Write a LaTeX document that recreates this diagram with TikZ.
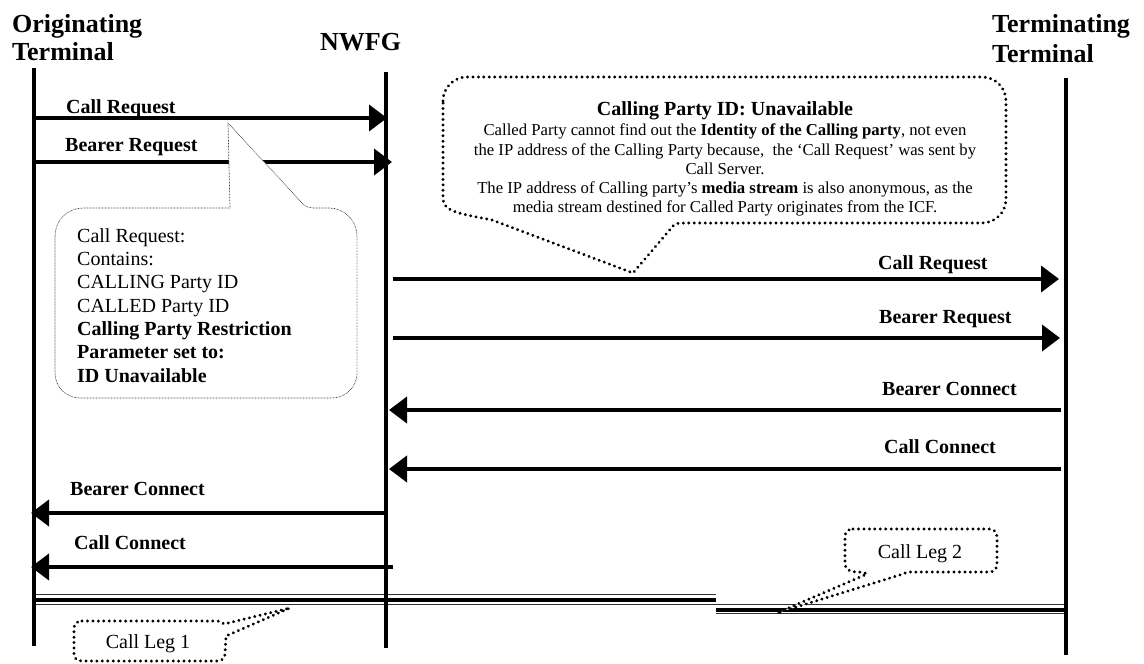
\documentclass[tikz,border=0pt]{standalone}
\usepackage{fontspec}
\setmainfont{Liberation Serif}
\usetikzlibrary{arrows.meta}
\begin{document}
\begin{tikzpicture}[x=1pt,y=-1pt,
  life/.style={line width=3.5pt},
  msg/.style={line width=4pt,-{Triangle[length=18pt,width=26pt]}},
  lbl/.style={font=\fontsize{20}{24}\selectfont\bfseries, inner sep=0pt, anchor=base west},
  ttl/.style={font=\fontsize{26}{30}\selectfont\bfseries, inner sep=0pt, anchor=base west},
  body/.style={font=\fontsize{16.7}{19}\selectfont, inner sep=0pt, anchor=base},
  note/.style={font=\fontsize{20}{23.3}\selectfont, inner sep=0pt, anchor=base west},
  legtext/.style={font=\fontsize{20}{23.3}\selectfont, inner sep=0pt, anchor=base},
  bigdots/.style={line width=3.2pt, line cap=round, dash pattern=on 0.05pt off 5.4pt},
  finedots/.style={line width=0.7pt, draw=black!75, dash pattern=on 0.7pt off 0.8pt},
  thinrule/.style={line width=1pt, draw=black!80},
  thickrule/.style={line width=4pt, draw=black},
]
\useasboundingbox (0,0) rectangle (1144,664);

% ---------- titles ----------
\node[ttl] (o1) at (12,32) {Originating};
\node[ttl] (o2) at (12,60) {Terminal};
\node[ttl] (nw) at (320,50) {NWFG};
\node[ttl] (t1) at (992,32) {Terminating};
\node[ttl] (t2) at (992,62) {Terminal};

% ---------- call leg rules ----------
\coordinate (leg1a) at (34,594.8);  \coordinate (leg1b) at (716,594.8);
\coordinate (leg1c) at (34,599.7);  \coordinate (leg1d) at (716,599.7);
\coordinate (leg1e) at (34,604);    \coordinate (leg1f) at (716,604);
\coordinate (leg2a) at (716,604.2); \coordinate (leg2b) at (1066,604.2);
\coordinate (leg2c) at (716,609.5); \coordinate (leg2d) at (1066,609.5);
\coordinate (leg2e) at (716,613.5); \coordinate (leg2f) at (1066,613.5);
\draw[thinrule] (leg1a) -- (leg1b);
\draw[thickrule] (leg1c) -- (leg1d);
\draw[thinrule] (leg1e) -- (leg1f);
\draw[thinrule] (leg2a) -- (leg2b);
\draw[thickrule] (leg2c) -- (leg2d);
\draw[thinrule] (leg2e) -- (leg2f);

% ---------- lifelines ----------
\coordinate (oTop) at (34,68);    \coordinate (oBot) at (34,646);
\coordinate (nTop) at (386,72);   \coordinate (nBot) at (386,648);
\coordinate (tTop) at (1066,78);  \coordinate (tBot) at (1066,655);
\draw[life] (oTop) -- (oBot);
\draw[life] (nTop) -- (nBot);
\draw[life] (tTop) -- (tBot);

% ---------- messages ----------
\coordinate (m1s) at (34,118);   \coordinate (m1e) at (387,118);
\coordinate (m2s) at (34,162);   \coordinate (m2e) at (392,162);
\coordinate (m3s) at (393,279);  \coordinate (m3e) at (1059,279);
\coordinate (m4s) at (393,338);  \coordinate (m4e) at (1060,338);
\coordinate (m5s) at (1061,410); \coordinate (m5e) at (389,410);
\coordinate (m6s) at (1061,469); \coordinate (m6e) at (389,469);
\coordinate (m7s) at (388,513);  \coordinate (m7e) at (31,513);
\coordinate (m8s) at (393,567);  \coordinate (m8e) at (31,567);

\draw[msg] (m1s) -- (m1e);
\draw[msg] (m2s) -- (m2e);
\draw[msg] (m3s) -- (m3e);
\draw[msg] (m4s) -- (m4e);
\draw[msg] (m5s) -- (m5e);
\draw[msg] (m6s) -- (m6e);
\draw[msg] (m7s) -- (m7e);
\draw[msg] (m8s) -- (m8e);

\node[lbl] (l1) at (66,113) {Call Request};
\node[lbl] (l2) at (65,151) {Bearer Request};
\node[lbl] (l3) at (878,269) {Call Request};
\node[lbl] (l4) at (879,323) {Bearer Request};
\node[lbl] (l5) at (882,395) {Bearer Connect};
\node[lbl] (l6) at (884,453) {Call Connect};
\node[lbl] (l7) at (70,495) {Bearer Connect};
\node[lbl] (l8) at (74,549) {Call Connect};

% ---------- left callout ----------
\draw[finedots, fill=white]
  (55,236) .. controls (55,220.6) and (67.6,208) .. (83,208) -- (230,208) -- (228,123)
  -- (303,204) .. controls (307,208) and (311,208) .. (318,208) -- (329,208)
  .. controls (344.4,208) and (357,220.6) .. (357,236) -- (357,373)
  .. controls (357,386.8) and (345.8,398) .. (332,398) -- (80,398)
  .. controls (66.2,398) and (55,386.8) .. (55,373) -- cycle;
\node[note] (c1) at (77,242) {Call Request:};
\node[note] (c2) at (77,265) {Contains:};
\node[note] (c3) at (77,288) {CALLING Party ID};
\node[note] (c4) at (77,312) {CALLED Party ID};
\node[note] (c5) at (77,335) {\bfseries Calling Party Restriction};
\node[note] (c6) at (77,358) {\bfseries Parameter set to:};
\node[note] (c7) at (77,382) {\bfseries ID Unavailable};

% ---------- big callout ----------
\draw[bigdots, fill=white]
  (443,101) .. controls (443,87.7) and (453.7,77) .. (467,77) -- (982,77)
  .. controls (995.3,77) and (1006,87.7) .. (1006,101) -- (1006,199)
  .. controls (1006,212.3) and (995.3,223) .. (982,223) -- (680,223)
  .. controls (677,223) and (675,224) .. (673,226) -- (633,273) -- (492,220)
  .. controls (462,214) and (443,212) .. (443,199) -- cycle;
\node[font=\fontsize{20}{23}\selectfont\bfseries, inner sep=0pt, anchor=base] (bt) at (725,115) {Calling Party ID: Unavailable};
\node[body] (b1) at (725,135) {Called Party cannot find out the \textbf{Identity of the Calling party}, not even};
\node[body] (b2) at (725,155) {the IP address of the Calling Party because, \ the `Call Request' was sent by};
\node[body] (b3) at (725,174) {Call Server.};
\node[body] (b4) at (725,193) {The IP address of Calling party's \textbf{media stream} is also anonymous, as the};
\node[body] (b5) at (725,212) {media stream destined for Called Party originates from the ICF.};

% ---------- Call Leg 1 ----------
\draw[bigdots, fill=white]
  (82,621) -- (216,621) .. controls (220,621) and (222,622) .. (224,624) -- (290,608)
  -- (226,636) -- (225,654) .. controls (225,658) and (222,661) .. (217,661) -- (82,661)
  .. controls (77,661) and (74,658) .. (74,654) -- (74,628)
  .. controls (74,624) and (77,621) .. cycle;
\node[legtext] (cl1) at (148,648) {Call Leg 1};

% ---------- Call Leg 2 ----------
\draw[bigdots, fill=white]
  (853,529) -- (989,529) .. controls (994,529) and (997,532) .. (997,537) -- (997,564)
  .. controls (997,569) and (994,572) .. (989,572) -- (910,572)
  .. controls (907,572) and (905,573) .. (903,574) -- (777,613) -- (867,574)
  .. controls (864,572) and (860,572) .. (856,572)
  .. controls (850,572) and (845,569) .. (845,564) -- (845,537)
  .. controls (845,532) and (848,529) .. cycle;
\node[legtext] (cl2) at (920,558) {Call Leg 2};
\end{tikzpicture}
\end{document}
